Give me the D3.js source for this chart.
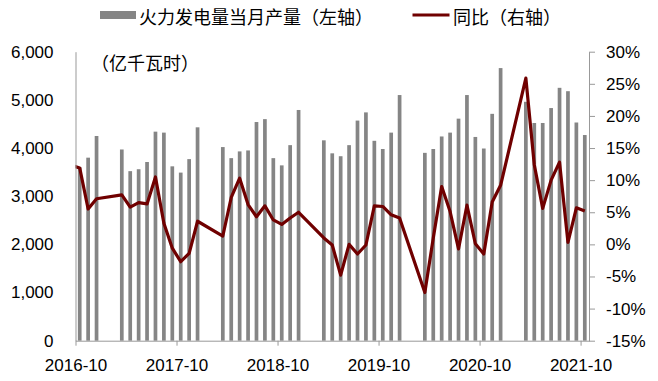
<!DOCTYPE html>
<html>
<head>
<meta charset="utf-8">
<script src="https://cdn.jsdelivr.net/npm/d3@7"></script>
<style>
  body { margin:0; background:#fff; }
  svg text { font-family:"Liberation Sans", Arial, sans-serif; }
  .cjk { font-family:"Noto Sans CJK SC", sans-serif; }
</style>
</head>
<body>
<svg id="chart"></svg>
<script>
// months shown (Jan/Feb are reported together, so they are missing)
var months = ["2016-09","2016-10","2016-11","2016-12",
  "2017-03","2017-04","2017-05","2017-06","2017-07","2017-08","2017-09","2017-10","2017-11","2017-12",
  "2018-03","2018-04","2018-05","2018-06","2018-07","2018-08","2018-09","2018-10","2018-11","2018-12",
  "2019-03","2019-04","2019-05","2019-06","2019-07","2019-08","2019-09","2019-10","2019-11","2019-12",
  "2020-03","2020-04","2020-05","2020-06","2020-07","2020-08","2020-09","2020-10","2020-11","2020-12",
  "2021-03","2021-04","2021-05","2021-06","2021-07","2021-08","2021-09","2021-10"];

// 火力发电量当月产量 (亿千瓦时)
var power = [null,3600,3800,4250,
  3970,3520,3560,3710,4340,4320,3620,3490,3770,4430,
  4020,3790,3930,3950,4540,4600,3790,3640,4060,4790,
  4160,3890,3830,4060,4570,4740,4150,3980,4320,5100,
  3900,3980,4240,4320,4610,5100,4230,3990,4710,5660,
  4960,4520,4520,4830,5250,5180,4530,4270];

// 同比 (%)
var yoy = [12.3,11.9,5.5,7.1,
  7.7,5.8,6.5,6.3,10.5,3.3,-0.6,-2.7,-1.4,3.6,
  1.3,7.3,10.3,6.2,4.3,6.0,3.8,3.1,4.1,5.0,
  1.0,-0.1,-4.8,0.0,-1.5,-0.1,6.0,5.9,4.6,4.1,
  -7.5,1.0,9.0,5.1,-0.7,6.1,0.1,-1.5,6.6,9.2,
  25.9,12.4,5.6,10.0,12.8,0.3,5.7,5.2];

var xTickLabels = ["2016-10","2017-10","2018-10","2019-10","2020-10","2021-10"];
var leftTicks = [0,1000,2000,3000,4000,5000,6000];
var rightTicks = [-15,-10,-5,0,5,10,15,20,25,30];

var legendBar = "火力发电量当月产量（左轴）";
var legendLine = "同比（右轴）";
var unitLabel = "（亿千瓦时）";

// month index counted from 2016-10
var monthIndex = function(m){
    var p = m.split("-");
    return (+p[0]-2016)*12 + (+p[1]) - 10;
}

var rows = months.map(function(m,i){
    return {month:m, idx:monthIndex(m), power:power[i], yoy:yoy[i]};
});

var screen = {width:658, height:381};
var plot = {left:75.5, right:589, top:51.7, bottom:340.7};

var svg = d3.select("#chart")
    .attr("width",screen.width)
    .attr("height",screen.height);

var xScale = d3.scaleLinear()
    .domain([0,61])
    .range([plot.left,plot.right]);

var yLeft = d3.scaleLinear()
    .domain([0,6000])
    .range([plot.bottom,plot.top]);

var yRight = d3.scaleLinear()
    .domain([-15,30])
    .range([plot.bottom,plot.top]);

svg.append("defs").append("clipPath")
    .attr("id","plotClip")
    .append("rect")
    .attr("x",plot.left)
    .attr("y",0)
    .attr("width",plot.right-plot.left)
    .attr("height",screen.height);

var g = svg.append("g").attr("clip-path","url(#plotClip)");

// bars
var barWidth = 3.7;
g.selectAll("rect.bar")
    .data(rows.filter(function(d){ return d.power!=null; }))
    .enter()
    .append("rect")
    .attr("class","bar")
    .attr("x",function(d){ return xScale(d.idx+0.5)-barWidth/2; })
    .attr("y",function(d){ return yLeft(d.power); })
    .attr("width",barWidth)
    .attr("height",function(d){ return yLeft(0)-yLeft(d.power); })
    .attr("fill","#858585");

// yoy line
var line = d3.line()
    .x(function(d){ return xScale(d.idx+0.5); })
    .y(function(d){ return yRight(d.yoy); });

g.append("path")
    .datum(rows)
    .attr("d",line)
    .attr("fill","none")
    .attr("stroke","#700000")
    .attr("stroke-width",3.2)
    .attr("stroke-linejoin","round");

// axes
var axisColor = "#999";

var xAxis = d3.axisBottom(xScale)
    .tickValues([0,12,24,36,48,60])
    .tickFormat(function(d,i){ return xTickLabels[i]; })
    .tickSize(5)
    .tickSizeOuter(0)
    .tickPadding(13);

var leftAxis = d3.axisLeft(yLeft)
    .tickValues(leftTicks)
    .tickFormat(d3.format(","))
    .tickSize(0)
    .tickPadding(22);

var rightAxis = d3.axisRight(yRight)
    .tickValues(rightTicks)
    .tickFormat(function(d){ return d+"%"; })
    .tickSize(6)
    .tickSizeOuter(0)
    .tickPadding(11);

var styleAxis = function(sel){
    sel.selectAll("path,line").attr("stroke",axisColor);
    sel.selectAll("text")
        .attr("fill","#000")
        .style("font-size","17px");
    sel.attr("font-family",null);
}

svg.append("g")
    .attr("transform","translate(0,"+plot.bottom+")")
    .call(xAxis)
    .call(styleAxis);

svg.append("g")
    .attr("transform","translate("+plot.left+",0)")
    .call(leftAxis)
    .call(styleAxis);

svg.append("g")
    .attr("transform","translate("+plot.right+",0)")
    .call(rightAxis)
    .call(styleAxis);

// legend
svg.append("rect")
    .attr("x",100).attr("y",11)
    .attr("width",36).attr("height",8)
    .attr("fill","#858585");
svg.append("text")
    .attr("class","cjk")
    .attr("x",139).attr("y",16)
    .attr("dominant-baseline","central")
    .style("font-size","18px")
    .text(legendBar);

svg.append("line")
    .attr("x1",412.5).attr("x2",449.5)
    .attr("y1",15).attr("y2",15)
    .attr("stroke","#700000")
    .attr("stroke-width",3.2);
svg.append("text")
    .attr("class","cjk")
    .attr("x",453).attr("y",16)
    .attr("dominant-baseline","central")
    .style("font-size","18px")
    .text(legendLine);

svg.append("text")
    .attr("class","cjk")
    .attr("x",91).attr("y",62)
    .attr("dominant-baseline","central")
    .style("font-size","18px")
    .text(unitLabel);
</script>
</body>
</html>
